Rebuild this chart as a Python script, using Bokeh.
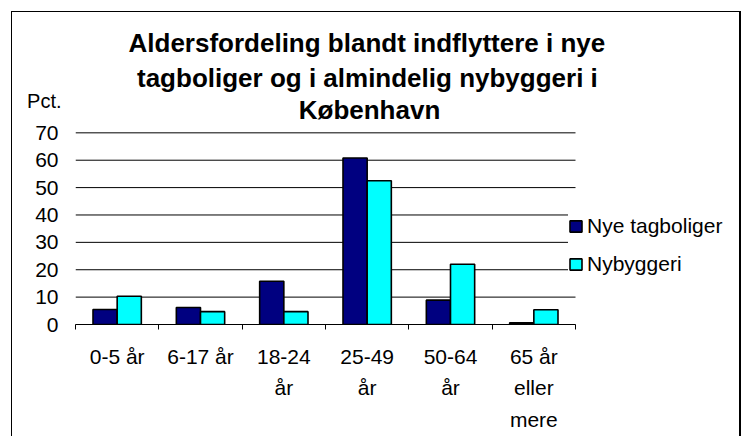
import numpy as np
from bokeh.plotting import figure
from bokeh.models import (Range1d, FixedTicker, LinearAxis, Legend, LegendItem,
                          Label, Title)
from bokeh.embed import file_html
from bokeh.resources import INLINE

# ---- data ----
categories = ["0-5 år", "6-17 år", "18-24\når", "25-49\når", "50-64\når", "65 år\neller\nmere"]
nye_tagboliger = [5.5, 6.2, 15.8, 60.8, 8.9, 0.6]
nybyggeri = [10.3, 4.7, 4.7, 52.5, 22.0, 5.4]
series_names = ["Nye tagboliger", "Nybyggeri"]
y_ticks = [0, 10, 20, 30, 40, 50, 60, 70]
title_lines = ["Aldersfordeling blandt indflyttere i nye",
               "tagboliger og i almindelig nybyggeri i",
               "København"]
y_unit = "Pct."

FONT = "Liberation Sans"
n = len(categories)
centers = np.arange(n) + 0.5
bw = 0.29

# layout (pixels)
W, H = 741, 436
LEFT, TOP, BOTTOM = 75, 94, 112
PLOT_W = 500                      # width taken by the six categories
FRAME_W = W - LEFT                # frame runs to the right edge (legend sits inside it)
X_END = n * FRAME_W / PLOT_W
Y_TOP = 84.0
UNIT_POS = 81.7                   # where the unit label sits on the value axis

p = figure(width=W, height=H, output_backend="svg", toolbar_location=None,
           title=None, x_range=Range1d(0, X_END), y_range=Range1d(0, Y_TOP),
           x_axis_type=None, y_axis_type=None,
           min_border_left=LEFT, min_border_right=0,
           min_border_top=TOP, min_border_bottom=BOTTOM)
p.outline_line_color = None
p.background_fill_color = None
p.border_fill_color = None
# chart border (left, top, right) drawn as page background behind the transparent canvas
p.styles = {
    "background-color": "white",
    "background-image": "linear-gradient(#000,#000), linear-gradient(#000,#000), linear-gradient(#000,#000)",
    "background-size": "1px 100%, 730px 1px, 2px 100%",
    "background-position": "11px 11px, 11px 11px, 739px 11px",
    "background-repeat": "no-repeat",
}

# x axis: labels at category centres, ticks at category boundaries
xax = LinearAxis(ticker=FixedTicker(ticks=list(centers), minor_ticks=list(range(n + 1))),
                 bounds=(0, n))
xax.major_label_overrides = {float(c): lab for c, lab in zip(centers, categories)}
xax.major_tick_line_color = None
xax.minor_tick_line_color = "black"
xax.minor_tick_in = 0
xax.minor_tick_out = 5
xax.axis_line_color = "black"
xax.axis_line_width = 1
xax.major_label_text_font = FONT
xax.major_label_text_font_size = "21px"
xax.major_label_text_color = "black"
xax.major_label_text_line_height = 1.38
xax.major_label_standoff = 14
p.add_layout(xax, "below")

yax = LinearAxis(ticker=FixedTicker(ticks=y_ticks, minor_ticks=[]))
yax.axis_line_color = None
yax.major_tick_line_color = None
yax.minor_tick_line_color = None
yax.major_label_standoff = 11
yax.major_label_text_font = FONT
yax.major_label_text_font_size = "21px"
yax.major_label_text_color = "black"
p.add_layout(yax, "left")

# unit label above the value axis
uax = LinearAxis(ticker=FixedTicker(ticks=[UNIT_POS], minor_ticks=[]))
uax.major_label_overrides = {UNIT_POS: y_unit}
uax.axis_line_color = None
uax.major_tick_line_color = None
uax.minor_tick_line_color = None
uax.major_tick_out = 0
uax.major_tick_in = 0
uax.major_label_standoff = -29
uax.major_label_text_font = FONT
uax.major_label_text_font_size = "20px"
uax.major_label_text_color = "black"
p.add_layout(uax, "left")

# horizontal gridlines across the category span only
p.segment(x0=0, x1=n, y0=y_ticks, y1=y_ticks, line_color="black", line_width=1)

r1 = p.vbar(x=centers - bw / 2, top=nye_tagboliger, width=bw, bottom=0,
            fill_color="#000080", line_color="black", line_width=1.6)
r2 = p.vbar(x=centers + bw / 2, top=nybyggeri, width=bw, bottom=0,
            fill_color="#00FFFF", line_color="black", line_width=1.6)

legend = Legend(items=[LegendItem(label=series_names[0], renderers=[r1]),
                       LegendItem(label=series_names[1], renderers=[r2])],
                location=(493, 48), orientation="vertical",
                glyph_width=15, glyph_height=14, label_standoff=4,
                label_height=22, spacing=14, padding=8, margin=0,
                label_text_font=FONT, label_text_font_size="21px",
                label_text_color="black",
                background_fill_color="white", background_fill_alpha=1.0,
                border_line_color=None)
p.add_layout(legend)

# title: two lines in the top panel, last line inside the plot area
p.add_layout(Title(text=title_lines[1], align="left", offset=61.5, standoff=3,
                   text_font=FONT, text_font_style="bold", text_font_size="26px",
                   text_color="black"), "above")
p.add_layout(Title(text=title_lines[0], align="left", offset=53, standoff=3,
                   text_font=FONT, text_font_style="bold", text_font_size="26px",
                   text_color="black"), "above")
p.add_layout(Label(x=294, y=215, x_units="screen", y_units="screen", text=title_lines[2],
                   text_font=FONT, text_font_style="bold", text_font_size="26px",
                   text_align="center", text_baseline="alphabetic",
                   text_color="black"))

open("out.html", "w").write(file_html(p, INLINE))
